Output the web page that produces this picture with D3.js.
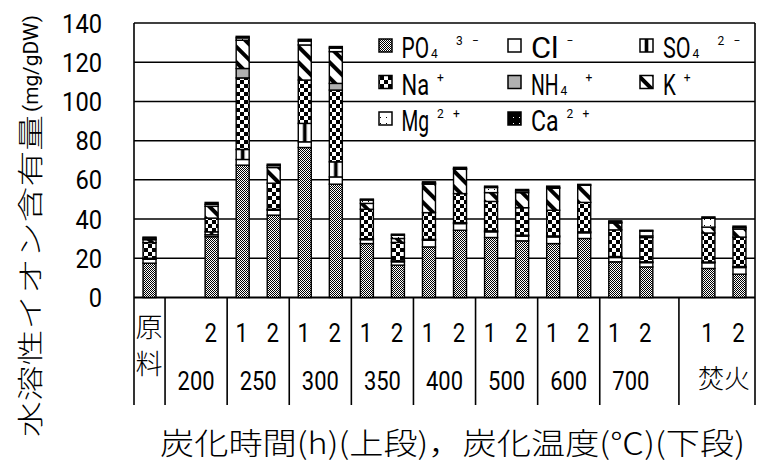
<!DOCTYPE html>
<html><head><meta charset="utf-8">
<script src="https://cdn.jsdelivr.net/npm/d3@7"></script>
<style>body{margin:0;background:#fff}svg{display:block}</style>
</head><body><svg id="c" width="759" height="462"></svg>
<script>
// ---- data ----
const slots = ["原料","200-1","200-2","250-1","250-2","300-1","300-2","350-1","350-2","400-1","400-2","500-1","500-2","600-1","600-2","700-1","700-2","gap","焚火-1","焚火-2"];
const hourLabels = ["","","2","1","2","1","2","1","2","1","2","1","2","1","2","1","2","","1","2"];
const tempLabels = ["200","250","300","350","400","500","600","700","焚火"];
const tempSlots = [[1,2],[3,4],[5,6],[7,8],[9,10],[11,12],[13,14],[15,16],[18,19]];
const groupBounds = [0,1,3,5,7,9,11,13,15,17.55,20];
const yTicks = [0,20,40,60,80,100,120,140];
const ionKeys = ["PO4","Cl","SO4","Na","NH4","K","Mg","Ca"];
const PO4 = [17.5,null,31,67.5,42,76.5,57.8,27.5,16.5,25.8,34.3,30.6,28.9,27.5,30.1,18.2,15.6,null,14.8,11.9];
const Cl  = [2,null,1,2.9,2.5,2.9,3.7,2,1.7,3.4,3.4,2.9,2.4,3.4,2.9,2.2,2.2,null,2.9,3.4];
const SO4 = [0.5,null,1.5,5.1,0.5,9.4,7.7,0.5,0.5,0.5,0.5,0.5,0.5,0.5,0.5,0.5,0.4,null,0.4,0.5];
const Na  = [8,null,7,36.5,13.3,22.1,36.6,15,9.4,13.6,14.8,15,14,13.1,15,13.6,12.4,null,14.8,15];
const NH4 = [0,null,0,4.8,0,0,3.4,0,0,0,0,0,0,0,0,0,0,null,0,0];
const K   = [1.5,null,6,14.4,8,17.9,16.2,3,2,14.5,12.4,4.5,7.7,11.2,8.8,3.5,0.8,null,3,4.1];
const Mg  = [0.8,null,1,1.2,1,2,1.8,1.7,1.7,0.5,0.3,2.6,0.9,0.4,0,0.4,2.5,null,4.5,0.8];
const Ca  = [0.5,null,1,0.8,0.7,0.9,0.8,0.5,0.5,0.7,0.7,0.7,0.7,0.7,0.4,0.7,0.4,null,0.7,0.7];
const legendLabels = [
  [["PO","m"],["4","sub"],["3","sup"],["−","sup"]],
  [["Cl","m"],["−","sup"]],
  [["SO","m"],["4","sub"],["2","sup"],["−","sup"]],
  [["Na","m"],["+","sup"]],
  [["NH","m"],["4","sub"],["+","sup"]],
  [["K","m"],["+","sup"]],
  [["Mg","m"],["2","sup"],["+","sup"]],
  [["Ca","m"],["2","sup"],["+","sup"]]
];
const yTitleMain = "水溶性イオン含有量";
const yTitleUnit = "(mg/gDW)";
const xTitle = "炭化時間(h)(上段)，炭化温度(℃)(下段)";
const rawLabel = ["原","料"];

// ---- build ----
const series = {PO4,Cl,SO4,Na,NH4,K,Mg,Ca};
const table = slots.map((s,i)=>{const o={slot:i,present:PO4[i]!==null};ionKeys.forEach(k=>o[k]=series[k][i]||0);return o;});
const stack = d3.stack().keys(ionKeys)(table);

const svg = d3.select("#c");
const L=134,R=755,T=23,B=297.5,TB=405;
const x = d3.scaleBand().domain(d3.range(slots.length)).range([L,R]).padding(0);
const y = d3.scaleLinear().domain([0,140]).range([B,T]);
const bw = 13;
const latin = "Roboto, 'Liberation Sans', Arial, sans-serif";
const lw = 400;
const cjk = "'Noto Sans CJK JP', sans-serif";
const cw = 300;

// patterns
const defs = svg.append("defs");
let p = defs.append("pattern").attr("id","pPO4").attr("patternUnits","userSpaceOnUse").attr("width",2).attr("height",2);
p.append("rect").attr("width",2).attr("height",2).attr("fill","#fff");
p.append("rect").attr("width",1).attr("height",1).attr("fill","#000");
p.append("rect").attr("x",1).attr("y",1).attr("width",1).attr("height",1).attr("fill","#000");
p = defs.append("pattern").attr("id","pNa").attr("patternUnits","userSpaceOnUse").attr("width",8).attr("height",8);
p.append("rect").attr("width",8).attr("height",8).attr("fill","#fff");
p.append("rect").attr("width",4).attr("height",4).attr("fill","#000");
p.append("rect").attr("x",4).attr("y",4).attr("width",4).attr("height",4).attr("fill","#000");
p = defs.append("pattern").attr("id","pSO4").attr("patternUnits","objectBoundingBox").attr("patternContentUnits","objectBoundingBox").attr("width",1).attr("height",1);
p.append("rect").attr("width",1).attr("height",1).attr("fill","#fff");
p.append("rect").attr("x",0.36).attr("width",0.28).attr("height",1).attr("fill","#000");
p = defs.append("pattern").attr("id","pK").attr("patternUnits","userSpaceOnUse").attr("width",11).attr("height",11).attr("patternTransform","rotate(-45)");
p.append("rect").attr("width",11).attr("height",11).attr("fill","#fff");
p.append("rect").attr("width",4).attr("height",11).attr("fill","#000");
p = defs.append("pattern").attr("id","pMg").attr("patternUnits","userSpaceOnUse").attr("width",6).attr("height",6);
p.append("rect").attr("width",6).attr("height",6).attr("fill","#fff");
p.append("rect").attr("x",2).attr("y",3).attr("width",1).attr("height",1).attr("fill","#000");
p = defs.append("pattern").attr("id","pCa").attr("patternUnits","userSpaceOnUse").attr("width",6).attr("height",6);
p.append("rect").attr("width",6).attr("height",6).attr("fill","#000");
p.append("rect").attr("x",3).attr("y",3).attr("width",1).attr("height",1).attr("fill","#fff");
const fills = {PO4:"url(#pPO4)",Cl:"#fff",SO4:"url(#pSO4)",Na:"url(#pNa)",NH4:"#b0b0b0",K:"url(#pK)",Mg:"url(#pMg)",Ca:"url(#pCa)"};

// gridlines
svg.append("g").selectAll("line").data(yTicks).join("line")
  .attr("x1",L).attr("x2",R).attr("y1",d=>y(d)).attr("y2",d=>y(d))
  .attr("stroke","#000").attr("stroke-width",d=>d===0?2:1.5);

// bars
const gb = svg.append("g");
stack.forEach(layer=>{
  gb.selectAll(null).data(layer.filter(d=>d.data.present && d[1]-d[0]>0)).join("rect")
    .attr("x",d=>x(d.data.slot)+x.bandwidth()/2-bw/2)
    .attr("y",d=>y(d[1]))
    .attr("width",bw)
    .attr("height",d=>y(d[0])-y(d[1]))
    .attr("fill",fills[layer.key])
    .attr("stroke","#000").attr("stroke-width",1.4);
});

// borders & table dividers
const xb = v=>L+v*x.bandwidth();
svg.append("g").selectAll("line").data(groupBounds).join("line")
  .attr("x1",d=>xb(d)).attr("x2",d=>xb(d))
  .attr("y1",d=>(d===0||d===20)?T:B).attr("y2",TB)
  .attr("stroke","#000").attr("stroke-width",1.6);

// y tick labels
svg.append("g").selectAll("text").data(yTicks).join("text")
  .attr("x",102).attr("y",d=>y(d)+9.5).attr("text-anchor","end")
  .attr("font-family",latin).attr("font-weight",lw).attr("font-size",26)
  .attr("textLength",d=>String(d).length*13.3).attr("lengthAdjust","spacingAndGlyphs").text(d=>d);

// x labels row 1
svg.append("g").selectAll("text").data(hourLabels.map((t,i)=>({t,i})).filter(d=>d.t)).join("text")
  .attr("x",d=>x(d.i)+x.bandwidth()/2-1).attr("y",341.5)
  .attr("text-anchor","middle").attr("font-family",latin).attr("font-weight",lw).attr("font-size",26)
  .attr("textLength",12.5).attr("lengthAdjust","spacingAndGlyphs").text(d=>d.t);
// row 2
const isNum = t=>/[0-9]/.test(t);
svg.append("g").selectAll("text").data(tempLabels.map((t,i)=>({t,s:tempSlots[i]}))).join("text")
  .attr("x",d=>(x(d.s[0])+x(d.s[1])+x.bandwidth())/2).attr("y",d=>isNum(d.t)?390:388)
  .attr("text-anchor","middle")
  .attr("font-family",d=>isNum(d.t)?latin:cjk)
  .attr("font-weight",d=>isNum(d.t)?lw:cw)
  .attr("font-size",26)
  .attr("textLength",d=>isNum(d.t)?37:52).attr("lengthAdjust","spacingAndGlyphs").text(d=>d.t);
// raw label
svg.append("g").selectAll("text").data(rawLabel).join("text")
  .attr("x",x(0)+x.bandwidth()/2-0.5).attr("y",(d,i)=>337+i*37).attr("text-anchor","middle")
  .attr("font-family",cjk).attr("font-weight",cw).attr("font-size",27).text(d=>d);

// titles
svg.append("text").attr("x",160).attr("y",454).attr("font-family",cjk).attr("font-weight",cw).attr("font-size",30)
  .attr("textLength",585).attr("lengthAdjust","spacingAndGlyphs").text(xTitle);
svg.append("text").attr("transform","translate(40,437) rotate(-90)").attr("font-family",cjk).attr("font-weight",cw).attr("font-size",26)
  .attr("textLength",322).attr("lengthAdjust","spacingAndGlyphs").text(yTitleMain);
svg.append("text").attr("transform","translate(38,112) rotate(-90)").attr("font-family",latin).attr("font-weight",lw).attr("font-size",21)
  .attr("textLength",97).attr("lengthAdjust","spacingAndGlyphs").text(yTitleUnit);

// legend
const swX=[379,508,640], txX=[401.5,531,663], rowBase=[58,94.5,131];
const lg = svg.append("g");
ionKeys.forEach((k,i)=>{
  const c=i%3, r=Math.floor(i/3);
  const base=rowBase[r];
  lg.append("rect").attr("x",swX[c]).attr("y",base-19).attr("width",13).attr("height",13)
    .attr("fill",fills[k]).attr("stroke","#000").attr("stroke-width",1.5);
  let cx = txX[c], prev="m";
  legendLabels[i].forEach((part,j)=>{
    const [t,kind]=part;
    if(kind==="m"){
      const len=t.length*14.8;
      const tx = lg.append("text").attr("x",0).attr("y",0).attr("font-family",latin).attr("font-weight",lw).attr("font-size",29).text(t);
      const nat = tx.node().getComputedTextLength() || (len-2);
      tx.attr("transform",`translate(${cx},${base}) scale(${(len-2)/nat},1)`);
      cx += len;
    } else {
      if(prev==="m") cx += (kind==="sub"?0:6);
      else if(prev==="sub") cx += 25;
      else cx += 16;
      lg.append("text").attr("x",cx).attr("y",kind==="sub"?base:base-13).attr("font-family",latin).attr("font-weight",lw).attr("font-size",12).text(t);
    }
    prev=kind;
  });
});
</script></body></html>
